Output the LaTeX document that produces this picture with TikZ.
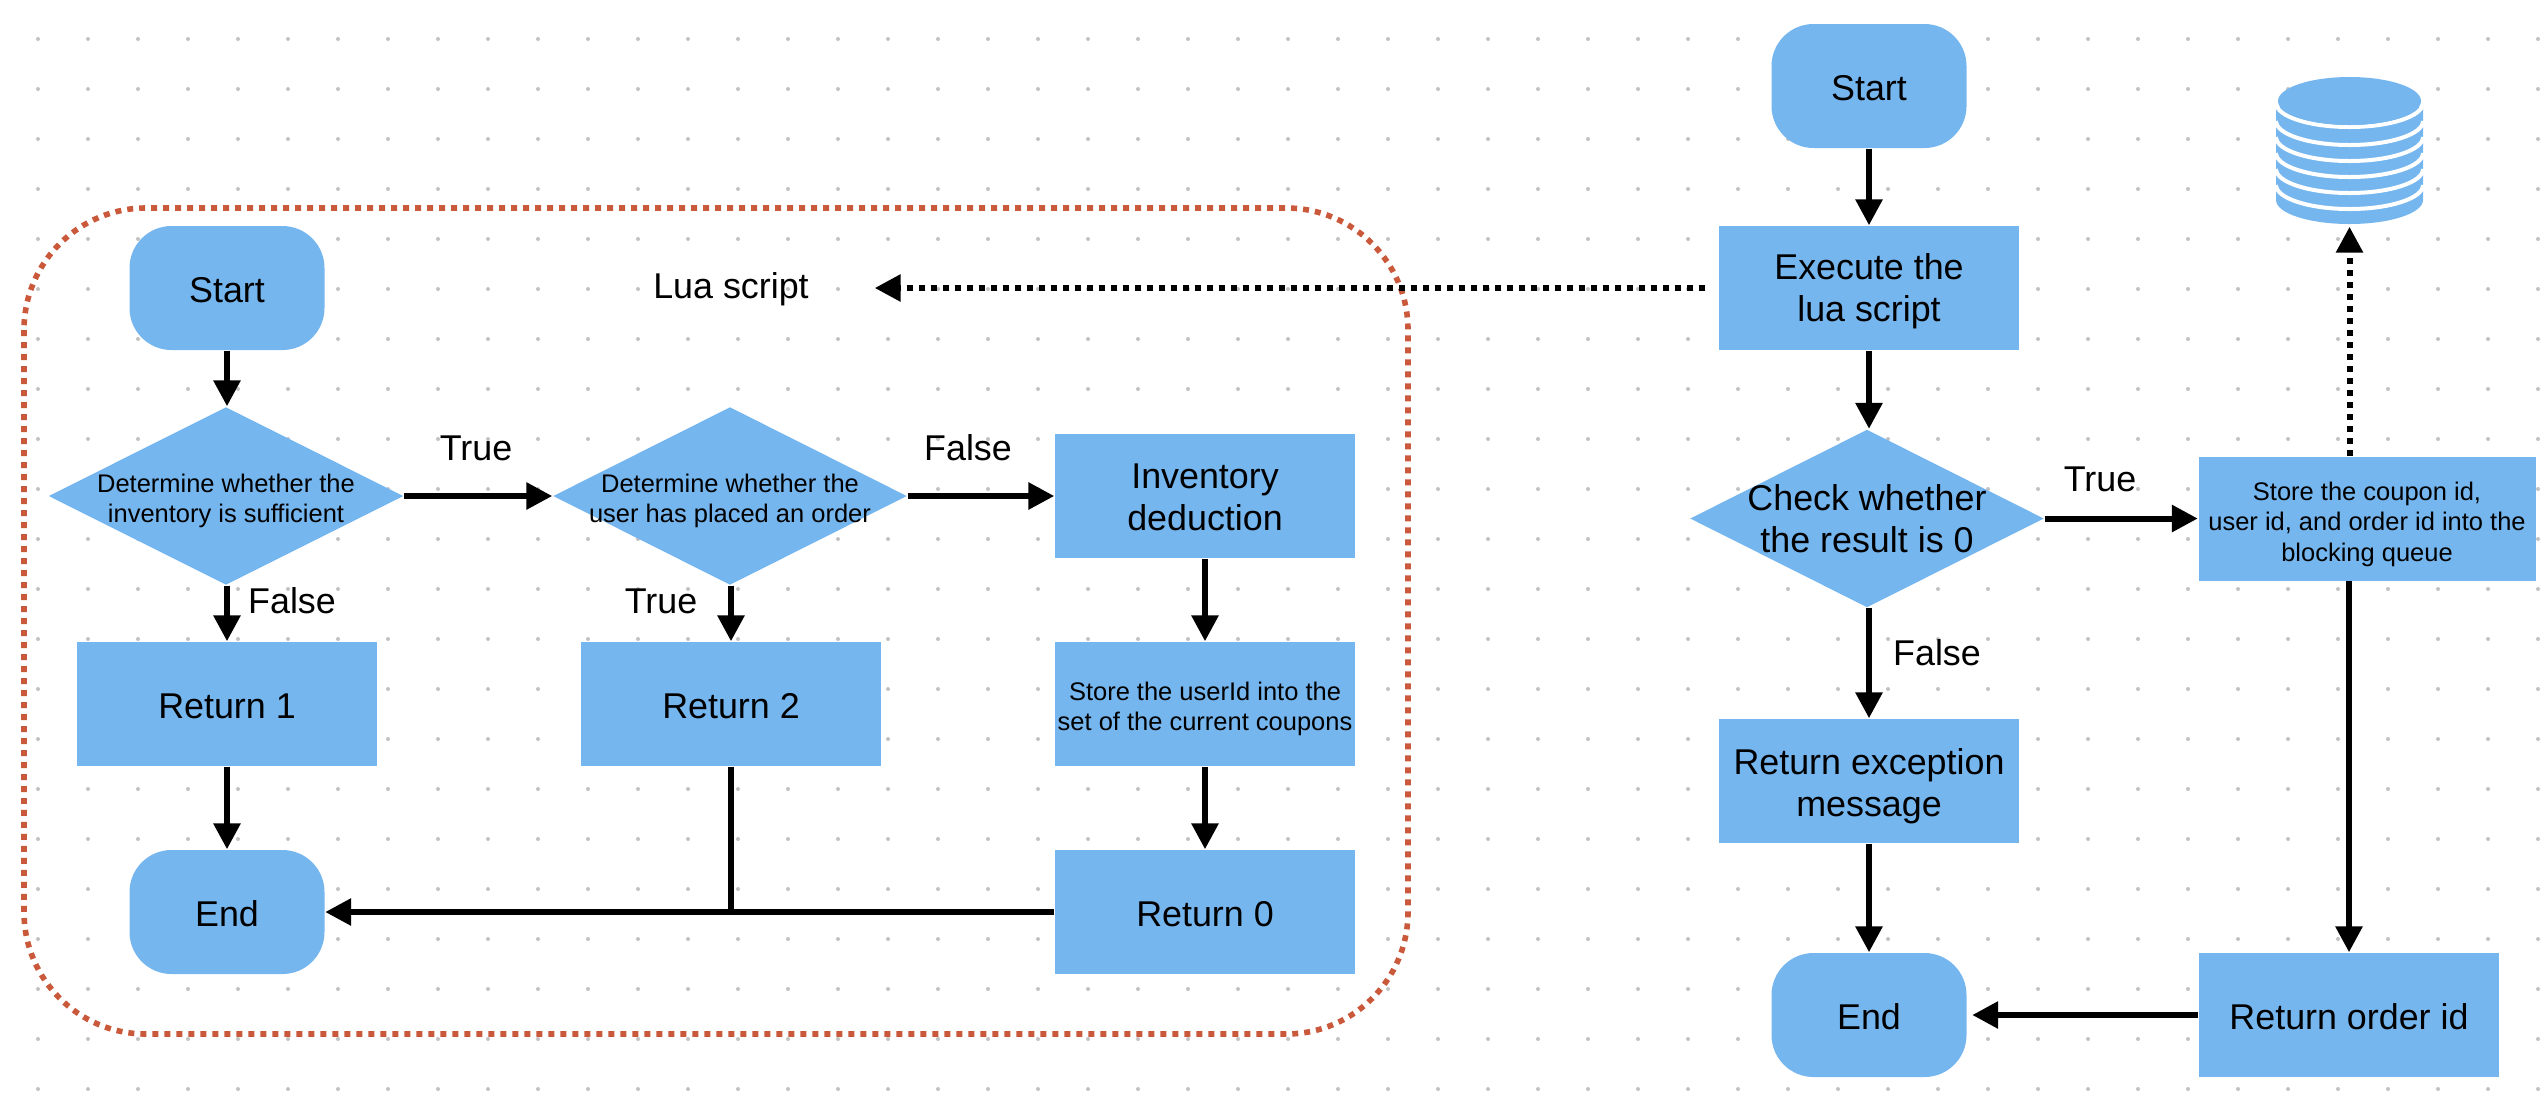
\documentclass[tikz,border=0pt]{standalone}
\usepackage{fontspec}
\setmainfont{Liberation Sans}
\usetikzlibrary{arrows.meta, shapes.geometric}
\definecolor{flowblue}{HTML}{75B6EF}
\definecolor{luared}{HTML}{C9593A}
\definecolor{griddot}{HTML}{C2C2C2}
\newcommand{\bigtext}{\fontsize{10.2}{12}\selectfont}
\newcommand{\smalltext}{\fontsize{7.25}{8.7}\selectfont}
\newcommand{\lift}[1]{\rule{0pt}{#1}}
\tikzset{
    flowbox/.style={fill=flowblue, inner sep=0pt, minimum width=3cm, minimum height=1.24cm, align=center, font=\bigtext,
        execute at begin node=\lift{0.8em}},
    smallbox/.style={flowbox, font=\smalltext},
    terminal/.style={flowbox, minimum width=1.95cm, rounded corners=0.42cm},
    decision/.style={diamond, fill=flowblue, inner sep=0pt, minimum width=3.55cm, minimum height=1.78cm},
    flowlabel/.style={inner sep=0pt, font=\bigtext},
    flowarrow/.style={line width=0.06cm, -{Triangle[length=0.26cm, width=0.26cm]}},
    dotarrow/.style={flowarrow, dash pattern=on 0.06cm off 0.06cm}
}

\begin{document}
\begin{tikzpicture}
        \useasboundingbox (0, 0) rectangle (25.46, -10.96);
        \foreach \x in {0,...,50}
            \foreach \y in {0,...,21}
                \fill[griddot] (0.38 + 0.5*\x, -0.39 - 0.5*\y) circle (0.02);

        \draw[luared, line width=0.056cm, dash pattern=on 0.06cm off 0.06cm, rounded corners=1.22cm]
        (0.24, -2.08) rectangle (14.08, -10.34);

        % left part
        \node[terminal] (startlua) at (2.27, -2.88) {Start};
        \node[decision, label={[align=center, font=\smalltext, yshift=-0.05cm]center:Determine whether the\\inventory is sufficient}]
        (checkstock) at (2.26, -4.96) {};
        \node[decision, minimum width=3.54cm, label={[align=center, font=\smalltext, yshift=-0.05cm]center:Determine whether the\\user has placed an order}]
        (checkorder) at (7.30, -4.96) {};
        \node[flowbox] (deduct) at (12.05, -4.96) {\lift{0.78em}Inventory\\deduction};
        \node[flowbox] (returnone) at (2.27, -7.04) {Return 1};
        \node[flowbox] (returntwo) at (7.31, -7.04) {Return 2};
        \node[smallbox] (storeuser) at (12.05, -7.04) {\lift{1.12em}Store the userId into the\\set of the current coupons};
        \node[flowbox] (returnzero) at (12.05, -9.12) {Return 0};
        \node[terminal] (endlua) at (2.27, -9.12) {End};
        \node[flowbox, fill=none, minimum width=2.86cm] (luascript) at (7.31, -2.88) {Lua script};
        \coordinate (joinreturn) at (returntwo.south |- returnzero.west);

        \draw[flowarrow] (startlua.south) -- (startlua.south |- checkstock.north);
        \draw[flowarrow] (returnone.north |- checkstock.south) -- (returnone.north);
        \draw[flowarrow] (returnone) -- (endlua);
        \draw[flowarrow] (checkstock) -- (checkorder);
        \draw[flowarrow] (returntwo.north |- checkorder.south) -- (returntwo.north);
        \draw[flowarrow] (checkorder) -- (deduct);
        \draw[flowarrow] (deduct) -- (storeuser);
        \draw[flowarrow] (storeuser) -- (returnzero);
        \draw[flowarrow] (returnzero) -- (endlua);
        \draw[line width=0.06cm] (returntwo) -- (joinreturn);

        \node[flowlabel] (truestock) at (4.76, -4.48) {True};
        \node[flowlabel] (falsestock) at (2.92, -6.01) {False};
        \node[flowlabel] (trueorder) at (6.61, -6.01) {True};
        \node[flowlabel] (falseorder) at (9.68, -4.48) {False};

        % right part
        \node[terminal] (start) at (18.69, -0.86) {Start};
        \node[flowbox] (execute) at (18.69, -2.88) {\lift{0.91em}Execute the\\lua script};
        \node[decision, minimum width=3.54cm, label={[align=center, font=\bigtext]center:Check whether\\the result is 0}]
        (checkresult) at (18.67, -5.185) {};
        \node[flowbox] (exception) at (18.69, -7.81) {\lift{1em}Return exception\\message};
        \node[terminal] (end) at (18.69, -10.15) {End};
        \node[smallbox, minimum width=3.37cm] (storequeue) at (23.67, -5.185)
        {\lift{1.17em}Store the coupon id,\\user id, and order id into the\\blocking queue};
        \node[flowbox] (returnid) at (23.49, -10.15) {Return order id};
        \node[inner sep=0pt, minimum width=1.47cm, minimum height=1.47cm] (database) at (23.495, -1.505) {};

        \fill[flowblue] (22.76, -1.07) -- (22.76, -2.00) arc[start angle=180, end angle=360, x radius=0.735, y radius=0.24]
        -- (24.23, -1.07) -- cycle;
        \foreach \y in {1.03, 1.21, 1.37, 1.53, 1.69, 1.85}
            \draw[white, line width=0.04cm] (22.76, -\y) arc[start angle=180, end angle=360, x radius=0.735, y radius=0.24];
        \fill[white] (22.76, -0.95) rectangle (24.23, -1.07);
        \fill[flowblue] (23.495, -1.01) ellipse (0.715 and 0.24);

        \draw[flowarrow] (start) -- (execute);
        \draw[flowarrow] (execute.south) -- (execute.south |- checkresult.north);
        \draw[flowarrow] (exception.north |- checkresult.south) -- (exception.north);
        \draw[flowarrow] (exception) -- (end);
        \draw[flowarrow] (checkresult) -- (storequeue);
        \draw[flowarrow] (storequeue.south -| returnid.north) -- (returnid.north);
        \draw[flowarrow, shorten >=0.05cm] (returnid) -- (end);
        \draw[dotarrow, shorten <=0.13cm] (execute) -- (luascript);
        \draw[dotarrow, shorten >=0.02cm] (storequeue.north -| database.south) -- (database.south);

        \node[flowlabel] (trueresult) at (21.00, -4.79) {True};
        \node[flowlabel] (falseresult) at (19.37, -6.53) {False};
\end{tikzpicture}
\end{document}
